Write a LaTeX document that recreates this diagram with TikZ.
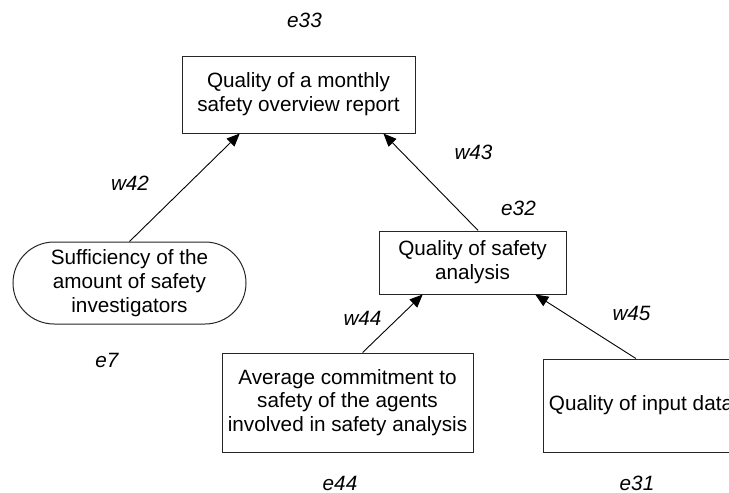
\documentclass[tikz,border=0pt]{standalone}
\usepackage{fontspec}
\setmainfont{Liberation Sans}
\usetikzlibrary{arrows.meta,calc,shapes.misc}

\tikzset{
  box/.style={draw=black!85, line width=1pt, fill=white, inner sep=0pt,
    align=center, font=\fontsize{20.7}{23.8}\selectfont},
  pill/.style={box, rounded rectangle},
  lbl/.style={font=\fontsize{20.7}{23.8}\selectfont\itshape, inner sep=0pt},
  link/.style={draw=black, line width=0.9pt,
    -{Triangle[length=13pt,width=11pt]}}
}

\begin{document}
\begin{tikzpicture}[x=1pt,y=-1pt]
\useasboundingbox (0,0) rectangle (729,493);

% factor nodes
\node[box, minimum width=233pt, minimum height=77pt] (report) at (298.5,94.5)
  {Quality of a monthly\\safety overview report};
\node[pill, minimum width=233pt, minimum height=82pt] (staff) at (129.5,283)
  {Sufficiency of the\\amount of safety\\investigators};
\node[box, minimum width=187pt, minimum height=63pt] (analysis) at (472.5,262.5)
  {Quality of safety\\analysis};
\node[box, minimum width=251pt, minimum height=99pt] (commit) at (347.5,402.5)
  {Average commitment to\\safety of the agents\\involved in safety analysis};
\node[box, minimum width=196pt, minimum height=93pt] (input) at (641,405.5)
  {Quality of input data};

% error labels
\node[lbl] (e33) at (304.5,20) {e33};
\node[lbl] (e32) at (518.5,208) {e32};
\node[lbl] (e7)  at (107,360) {e7};
\node[lbl] (e44) at (340,483.5) {e44};
\node[lbl] (e31) at (637,483.5) {e31};

% weight labels
\node[lbl] (w42) at (130,183) {w42};
\node[lbl] (w43) at (473.5,152) {w43};
\node[lbl] (w44) at (362.5,318) {w44};
\node[lbl] (w45) at (631.5,313) {w45};

% influence links
\draw[link] (staff.north) -- ($(report.south west)!0.249!(report.south east)$);
\draw[link] ($(analysis.north west)!0.53!(analysis.north east)$)
  -- ($(report.south west)!0.863!(report.south east)$);
\draw[link] ($(commit.north west)!0.56!(commit.north east)$)
  -- ($(analysis.south west)!0.235!(analysis.south east)$);
\draw[link] ($(input.north west)!0.474!(input.north east)$)
  -- ($(analysis.south west)!0.834!(analysis.south east)$);
\end{tikzpicture}
\end{document}
